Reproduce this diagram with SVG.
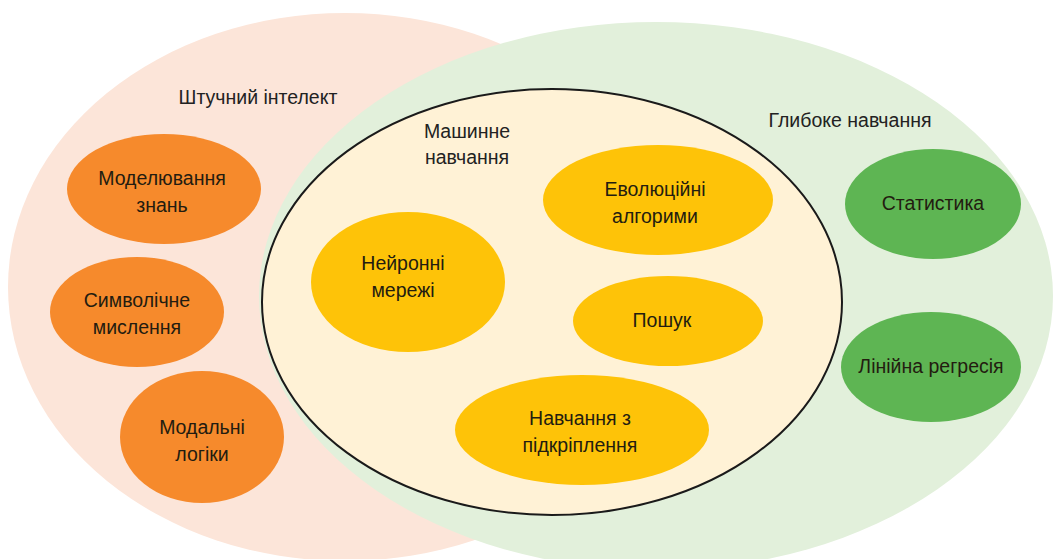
<svg xmlns="http://www.w3.org/2000/svg" width="1053" height="559" viewBox="0 0 1053 559">
  <style>
    .lbl { font-family: "Liberation Sans", "Noto Sans", sans-serif; font-size: 19.5px; fill: #222222; text-anchor: middle; }
    .ntx { font-family: "Liberation Sans", "Noto Sans", sans-serif; font-size: 19.5px; fill: #231c10; text-anchor: middle; }
    .ai { fill: #FCE5D9; }
    .dl { fill: #E2F0DB; }
    .ml { fill: #FFF2D6; stroke: #1a1a1a; stroke-width: 2; }
    .orange { fill: #F68A2C; }
    .yellow { fill: #FEC308; }
    .green { fill: #5EB553; }
  </style>
  <rect width="1053" height="559" fill="#ffffff"/>

  <!-- outer regions: AI, deep learning, machine learning -->
  <g id="ai-region">
    <ellipse class="ai" cx="345" cy="287" rx="337" ry="274"/>
    <text class="lbl" x="258" y="104">Штучний інтелект</text>
  </g>
  <g id="dl-region">
    <ellipse class="dl" cx="656" cy="296" rx="397" ry="274"/>
    <text class="lbl" x="850" y="127">Глибоке навчання</text>
  </g>
  <g id="ml-region">
    <ellipse class="ml" cx="552" cy="302" rx="290" ry="213"/>
    <text class="lbl" x="467" y="138">Машинне</text>
    <text class="lbl" x="467" y="164">навчання</text>
  </g>

  <!-- AI nodes -->
  <g id="knowledge-modeling">
    <ellipse class="orange" cx="164" cy="189" rx="97" ry="55"/>
    <text class="ntx" x="162" y="185">Моделювання</text>
    <text class="ntx" x="162" y="212">знань</text>
  </g>
  <g id="symbolic-thinking">
    <ellipse class="orange" cx="137" cy="312" rx="87" ry="55"/>
    <text class="ntx" x="137" y="307">Символічне</text>
    <text class="ntx" x="137" y="334">мислення</text>
  </g>
  <g id="modal-logic">
    <ellipse class="orange" cx="202" cy="437" rx="82" ry="66"/>
    <text class="ntx" x="202" y="434">Модальні</text>
    <text class="ntx" x="202" y="461">логіки</text>
  </g>

  <!-- ML nodes -->
  <g id="neural-networks">
    <ellipse class="yellow" cx="408" cy="282" rx="97" ry="70"/>
    <text class="ntx" x="403" y="270">Нейронні</text>
    <text class="ntx" x="403" y="297">мережі</text>
  </g>
  <g id="evolutionary">
    <ellipse class="yellow" cx="658" cy="200" rx="115" ry="55"/>
    <text class="ntx" x="655" y="196">Еволюційні</text>
    <text class="ntx" x="655" y="223">алгорими</text>
  </g>
  <g id="search">
    <ellipse class="yellow" cx="668" cy="321" rx="95" ry="45"/>
    <text class="ntx" x="662" y="327">Пошук</text>
  </g>
  <g id="reinforcement">
    <ellipse class="yellow" cx="582" cy="430" rx="127" ry="55"/>
    <text class="ntx" x="580" y="425">Навчання з</text>
    <text class="ntx" x="580" y="452">підкріплення</text>
  </g>

  <!-- DL nodes -->
  <g id="statistics">
    <ellipse class="green" cx="933" cy="204" rx="88" ry="55"/>
    <text class="ntx" x="933" y="210">Статистика</text>
  </g>
  <g id="linear-regression">
    <ellipse class="green" cx="931" cy="367" rx="90" ry="55"/>
    <text class="ntx" x="931" y="373">Лінійна регресія</text>
  </g>

  <g id="connectors"/>
</svg>
